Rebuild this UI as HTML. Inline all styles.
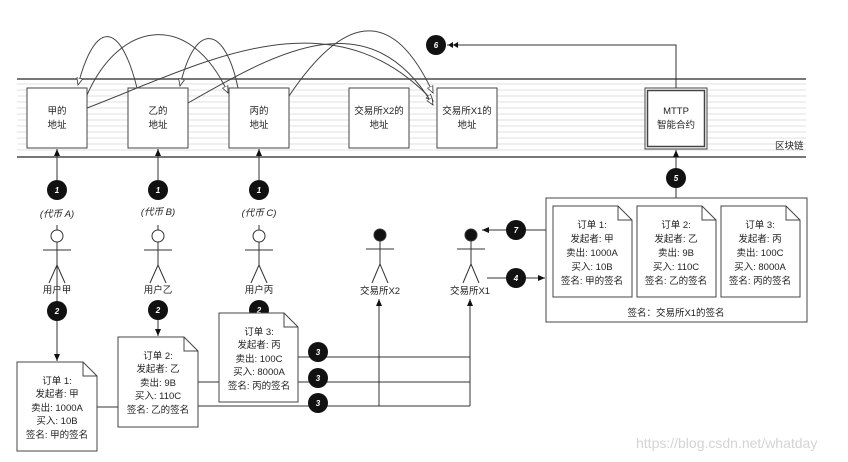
<!DOCTYPE html>
<html><head><meta charset="utf-8"><style>
html,body{margin:0;padding:0;background:#fff;}
svg{display:block;}
text{font-family:"Liberation Sans","Noto Sans CJK SC",sans-serif;font-size:9.5px;fill:#222;}
.c text{fill:#fff;font-size:8px;font-style:italic;font-weight:bold;}
</style></head><body>
<svg width="848" height="462" viewBox="0 0 848 462" xmlns="http://www.w3.org/2000/svg">
<defs>
<marker id="a" markerWidth="8" markerHeight="8" refX="7" refY="4" orient="auto" markerUnits="userSpaceOnUse"><path d="M0,1 L7,4 L0,7 Z" fill="#111"/></marker>
<marker id="o" markerWidth="8" markerHeight="8" refX="7" refY="4" orient="auto" markerUnits="userSpaceOnUse"><path d="M0,1 L7,4 L0,7 Z" fill="#fff" stroke="#333" stroke-width="0.8"/></marker>
<marker id="d" markerWidth="12" markerHeight="8" refX="11" refY="4" orient="auto" markerUnits="userSpaceOnUse"><path d="M0,1 L5,4 L0,7 Z M5,1 L10,4 L5,7 Z" fill="#111"/></marker>
</defs>
<!-- blockchain band -->
<g stroke="#e2e2e2" stroke-width="1">
<line x1="17" y1="84" x2="806" y2="84"/><line x1="17" y1="90" x2="806" y2="90"/><line x1="17" y1="96" x2="806" y2="96"/><line x1="17" y1="102" x2="806" y2="102"/><line x1="17" y1="108" x2="806" y2="108"/><line x1="17" y1="114" x2="806" y2="114"/><line x1="17" y1="120" x2="806" y2="120"/><line x1="17" y1="126" x2="806" y2="126"/><line x1="17" y1="132" x2="806" y2="132"/><line x1="17" y1="138" x2="806" y2="138"/><line x1="17" y1="144" x2="806" y2="144"/><line x1="17" y1="150" x2="806" y2="150"/>
</g>
<line x1="17" y1="79" x2="806" y2="79" stroke="#777" stroke-width="2"/>
<line x1="17" y1="157" x2="806" y2="157" stroke="#777" stroke-width="2"/>
<text x="775" y="149">区块链</text>
<!-- boxes -->
<g fill="#fff" stroke="#444" stroke-width="1">
<rect x="27" y="88" width="60" height="60"/><rect x="128" y="88" width="60" height="60"/><rect x="229" y="88" width="60" height="60"/><rect x="349" y="88" width="60" height="60"/><rect x="437" y="88" width="60" height="60"/>
<rect x="645" y="88" width="62" height="61" stroke-width="1"/><rect x="647.5" y="90.5" width="57" height="56" stroke-width="1.5"/>
</g>
<g text-anchor="middle">
<text x="57" y="114">甲的</text><text x="57" y="128">地址</text>
<text x="158" y="114">乙的</text><text x="158" y="128">地址</text>
<text x="259" y="114">丙的</text><text x="259" y="128">地址</text>
<text x="379" y="114">交易所X2的</text><text x="379" y="128">地址</text>
<text x="467" y="114">交易所X1的</text><text x="467" y="128">地址</text>
<text x="676" y="114">MTTP</text><text x="676" y="128">智能合约</text>
</g>
<!-- curves -->
<g fill="none" stroke="#444" stroke-width="1">
<path d="M137,88 C120,20 95,20 78,85" marker-end="url(#o)"/>
<path d="M87,95 C120,20 190,10 228,93" marker-end="url(#o)"/>
<path d="M238,88 C225,25 195,20 180,86" marker-end="url(#o)"/>
<path d="M87,108 C200,65 330,-10 433,101" marker-end="url(#o)"/>
<path d="M188,103 C280,50 370,0 433,105" marker-end="url(#o)"/>
<path d="M289,96 C340,20 390,0 433,93" marker-end="url(#o)"/>
</g>
<!-- connectors -->
<g fill="none" stroke="#333" stroke-width="1">
<line x1="57" y1="180" x2="57" y2="149" marker-end="url(#a)"/>
<line x1="158" y1="180" x2="158" y2="149" marker-end="url(#a)"/>
<line x1="259" y1="180" x2="259" y2="149" marker-end="url(#a)"/>
<line x1="57" y1="250" x2="57" y2="361" marker-end="url(#a)"/>
<line x1="158" y1="320" x2="158" y2="336" marker-end="url(#a)"/>
<line x1="97" y1="407" x2="118" y2="407"/>
<line x1="198" y1="382" x2="219" y2="382"/>
<path d="M298,357 H470 M298,382 H470 M198,406 H470"/>
<line x1="379" y1="406" x2="379" y2="299" marker-end="url(#a)"/>
<line x1="470" y1="406" x2="470" y2="299" marker-end="url(#a)"/>
<line x1="676" y1="198" x2="676" y2="150" marker-end="url(#a)"/>
<path d="M676,88 V45 H447" marker-end="url(#d)"/>
<line x1="546" y1="230" x2="482" y2="230" marker-end="url(#a)"/>
<line x1="487" y1="278" x2="545" y2="278" marker-end="url(#a)"/>
</g>
<!-- numbered circles -->
<g class="c">
<g fill="#111"><circle cx="57" cy="190" r="10"/><circle cx="158" cy="190" r="10"/><circle cx="259" cy="190" r="10"/>
<circle cx="57" cy="311" r="10"/><circle cx="158" cy="310" r="10"/><circle cx="259" cy="310" r="10"/>
<circle cx="318" cy="352" r="10"/><circle cx="318" cy="378" r="10"/><circle cx="318" cy="403" r="10"/>
<circle cx="676" cy="178" r="10"/><circle cx="436" cy="45" r="10"/><circle cx="516" cy="230" r="10"/><circle cx="516" cy="278" r="10"/></g>
<g text-anchor="middle">
<text x="57" y="193">1</text><text x="158" y="193">1</text><text x="259" y="193">1</text>
<text x="57" y="314">2</text><text x="158" y="313">2</text><text x="259" y="313">2</text>
<text x="318" y="355">3</text><text x="318" y="381">3</text><text x="318" y="406">3</text>
<text x="676" y="181">5</text><text x="436" y="48">6</text><text x="516" y="233">7</text><text x="516" y="281">4</text>
</g></g>
<!-- token labels -->
<g text-anchor="middle" font-style="italic">
<text x="57" y="217" font-style="italic">(代币 A)</text><text x="158" y="215" font-style="italic">(代币 B)</text><text x="259" y="216" font-style="italic">(代币 C)</text>
</g>
<!-- actors -->
<g stroke="#333" stroke-width="1" fill="#fff">
<g id="act"><circle cx="57" cy="236" r="6"/><path d="M57,242 V265 M43,250 H71 M57,265 L49,283 M57,265 L65,283 M57,225 V230" fill="none"/></g>
<use href="#act" x="101"/><use href="#act" x="202"/>
<circle cx="380" cy="235" r="6" fill="#111"/><path d="M380,241 V264 M366,249 H394 M380,264 L372,283 M380,264 L388,283" fill="none"/>
<circle cx="471" cy="235" r="6" fill="#111"/><path d="M471,241 V264 M457,249 H485 M471,264 L463,283 M471,264 L479,283" fill="none"/>
</g>
<g text-anchor="middle">
<text x="57" y="293">用户甲</text><text x="158" y="293">用户乙</text><text x="259" y="293">用户丙</text>
<text x="380" y="294">交易所X2</text><text x="470" y="294">交易所X1</text>
</g>
<!-- documents -->
<g fill="#fff" stroke="#444" stroke-width="1">
<path d="M17,362 H83 L97,376 V451 H17 Z M83,362 V376 H97"/>
<path d="M118,337 H184 L198,351 V427 H118 Z M184,337 V351 H198"/>
<path d="M219,313 H284 L298,327 V402 H219 Z M284,313 V327 H298"/>
<rect x="546" y="198" width="261" height="124"/>
<path d="M553,206 H618 L632,220 V297 H553 Z M618,206 V220 H632"/>
<path d="M637,206 H702 L716,220 V297 H637 Z M702,206 V220 H716"/>
<path d="M721,206 H786 L800,220 V297 H721 Z M786,206 V220 H800"/>
</g>
<g text-anchor="middle">
<text x="57" y="384">订单 1:</text><text x="57" y="397">发起者: 甲</text><text x="57" y="411">卖出: 1000A</text><text x="57" y="424">买入: 10B</text><text x="57" y="438">签名: 甲的签名</text>
<text x="158" y="359">订单 2:</text><text x="158" y="372">发起者: 乙</text><text x="158" y="386">卖出: 9B</text><text x="158" y="399">买入: 110C</text><text x="158" y="413">签名: 乙的签名</text>
<text x="259" y="335">订单 3:</text><text x="259" y="348">发起者: 丙</text><text x="259" y="362">卖出: 100C</text><text x="259" y="375">买入: 8000A</text><text x="259" y="389">签名: 丙的签名</text>
<text x="592" y="228">订单 1:</text><text x="592" y="242">发起者: 甲</text><text x="592" y="256">卖出: 1000A</text><text x="592" y="270">买入: 10B</text><text x="592" y="284">签名: 甲的签名</text>
<text x="676" y="228">订单 2:</text><text x="676" y="242">发起者: 乙</text><text x="676" y="256">卖出: 9B</text><text x="676" y="270">买入: 110C</text><text x="676" y="284">签名: 乙的签名</text>
<text x="760" y="228">订单 3:</text><text x="760" y="242">发起者: 丙</text><text x="760" y="256">卖出: 100C</text><text x="760" y="270">买入: 8000A</text><text x="760" y="284">签名: 丙的签名</text>
<text x="676" y="316">签名：交易所X1的签名</text>
</g>
<text x="636" y="448" style="font-size:14px;fill:#d4d4d4">https://blog.csdn.net/whatday</text>
</svg>
</body></html>
